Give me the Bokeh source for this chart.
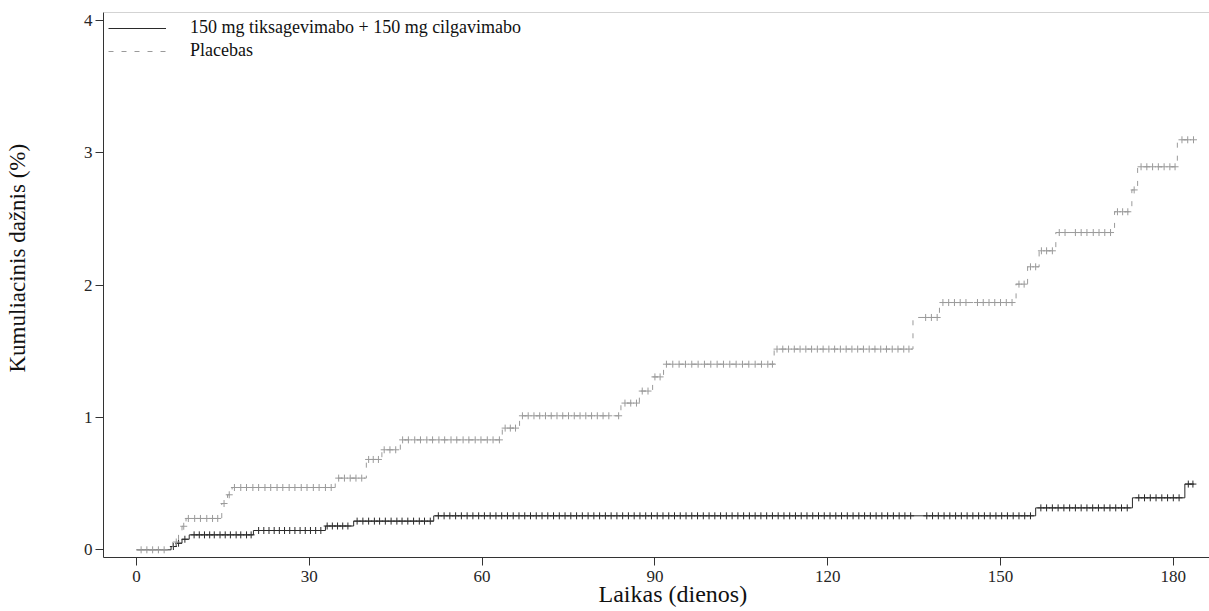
import numpy as np
from bokeh.plotting import figure
from bokeh.models import (Range1d, Legend, LegendItem, Span, FixedTicker, Title, LinearAxis)
from bokeh.embed import file_html
from bokeh.resources import INLINE

# ---- data ----
x_ticks = [0, 30, 60, 90, 120, 150, 180]
y_ticks = [0, 1, 2, 3, 4]
x_title = "Laikas (dienos)"
y_title = "Kumuliacinis dažnis (%)"
trt_name = "150 mg tiksagevimabo + 150 mg cilgavimabo"
pbo_name = "Placebas"

# treatment: step times (days) and cumulative incidence (%)
trt_days = [0, 6.0, 6.9, 7.9, 9.15, 20.3, 32.8, 37.7, 51.6, 156.1, 172.9, 182.0]
trt_cum = [0, 0.025, 0.05, 0.08, 0.113, 0.146, 0.18, 0.217, 0.257, 0.317, 0.393, 0.497]
trt_last_day = 183.6

# placebo
pbo_days = [0, 6.3, 7.3, 7.9, 8.6, 14.8, 15.8, 16.6, 34.5, 39.9, 42.6, 45.8, 63.5, 66.5,
            84.1, 87.3, 89.6, 91.5, 110.7, 134.8, 139.4, 152.7, 154.7, 156.7, 159.6,
            169.8, 172.8, 173.8, 180.7]
pbo_cum = [0, 0.059, 0.118, 0.178, 0.237, 0.35, 0.416, 0.471, 0.542, 0.683, 0.756, 0.831,
           0.92, 1.013, 1.109, 1.2, 1.307, 1.403, 1.517, 1.756, 1.869, 2.008, 2.139, 2.26,
           2.398, 2.555, 2.72, 2.895, 3.099]
pbo_last_day = 183.8

# censoring times (days)
trt_censor = [6.4, 7.3, 8.4,
              10.0, 10.9, 11.8, 12.7, 13.5, 14.5, 15.4, 16.3, 17.3, 18.1, 19.1, 19.9,
              21.2, 22.1, 23.0, 23.9, 24.8, 25.7, 26.6, 27.5, 28.4, 29.3, 30.2, 31.1, 32.0,
              33.1, 34.0, 34.9, 35.8, 36.7,
              38.3, 39.3, 40.3, 41.3, 42.2, 43.2, 44.2, 45.2, 46.1, 47.1, 48.1, 49.1, 50.0, 51.0,
              52.4, 53.4, 54.4, 55.4, 56.4, 57.4, 58.4, 59.4, 60.4, 61.4, 62.4, 63.4, 64.4,
              65.4, 66.4, 67.4, 68.4, 69.4, 70.4, 71.4, 72.4, 73.4, 74.4, 75.4, 76.4, 77.4,
              78.4, 79.4, 80.4, 81.4, 82.4, 83.4, 84.4, 85.4, 86.4, 87.4, 88.4, 89.4, 90.4,
              91.4, 92.4, 93.4, 94.4, 95.4, 96.4, 97.4, 98.4, 99.4, 100.4, 101.4, 102.4,
              103.4, 104.4, 105.4, 106.4, 107.4, 108.4, 109.4, 110.4, 111.4, 112.4, 113.4,
              114.4, 115.4, 116.4, 117.4, 118.4, 119.4, 120.4, 121.4, 122.4, 123.4, 124.4,
              125.4, 126.4, 127.4, 128.4, 129.4, 130.4, 131.4, 132.4, 133.4, 134.4,
              137.2, 138.2, 139.2, 140.2, 141.2, 142.2, 143.2, 144.2, 145.2, 146.2, 147.2,
              148.2, 149.2, 150.2, 151.2, 152.2, 153.2, 154.2, 155.2,
              157.0, 158.0, 159.0, 160.0, 161.0, 162.0, 163.0, 164.0, 165.0, 166.0, 167.0,
              168.0, 169.0, 170.0, 171.0, 172.0,
              174.0, 175.0, 176.0, 177.0, 178.0, 179.0, 180.0, 181.0,
              182.6, 183.4]
pbo_censor = [0.8, 1.8, 2.8, 3.8, 4.8,
              6.9, 8.2,
              9.0, 10.1, 11.1, 12.2, 13.2, 14.1,
              15.2, 16.1,
              17.0, 18.1, 19.1, 20.2, 21.2, 22.3, 23.3, 24.4, 25.4, 26.5, 27.5, 28.6, 29.6,
              30.7, 31.7, 32.8, 33.8,
              35.1, 36.1, 37.1, 38.1, 39.1,
              40.3, 41.1, 42.0,
              43.0, 44.0, 45.0,
              46.2, 47.2, 48.3, 49.3, 50.4, 51.4, 52.5, 53.5, 54.6, 55.6, 56.7, 57.7, 58.8,
              59.8, 60.9, 61.9, 63.0,
              64.0, 64.9, 65.8,
              67.0, 68.0, 69.0, 70.0, 71.0, 72.0, 73.0, 74.0, 75.0, 76.0, 77.0, 78.0, 79.0,
              80.0, 81.0, 82.0, 83.7,
              84.8, 85.8, 86.8,
              87.8, 88.8,
              90.0, 90.9,
              92.0, 93.1, 94.2, 95.3, 96.4, 97.5, 98.6, 99.7, 100.8, 101.9, 103.0, 104.1,
              105.2, 106.3, 107.4, 108.5, 109.6, 110.4,
              111.2, 112.2, 113.2, 114.2, 115.2, 116.2, 117.2, 118.2, 119.2, 120.2, 121.2,
              122.2, 123.2, 124.2, 125.2, 126.2, 127.2, 128.2, 129.2, 130.2, 131.2, 132.2,
              133.2, 134.1,
              137.0, 138.0, 139.0,
              140.0, 141.0, 142.0, 143.0, 144.0,
              146.0, 147.0, 148.0, 149.0, 150.0, 151.0, 152.0,
              153.2, 154.1,
              155.2, 156.1,
              157.1, 158.0, 159.0,
              160.2, 161.2,
              163.0, 164.0, 165.0, 166.1, 167.1, 168.1, 169.1,
              170.3, 171.2, 172.1,
              173.2,
              174.4, 175.4, 176.4, 177.4, 178.4, 179.4, 180.3,
              181.5, 182.5, 183.5]

# axis ranges
x_lo, x_hi = -5.73, 186.28
y_lo, y_hi = -0.058, 4.061


def level_at(t, days, cum):
    idx = np.searchsorted(np.asarray(days), np.asarray(t), side="right") - 1
    return np.asarray(cum)[idx]


FONT = "Liberation Serif"
TRT_COL = "#2a2a2a"
PBO_COL = "#9a9a9a"

p = figure(width=1209, height=611, output_backend="svg", toolbar_location=None,
           x_range=Range1d(x_lo, x_hi), y_range=Range1d(y_lo, y_hi),
           min_border_left=103, min_border_right=0, min_border_top=12, min_border_bottom=54)
p.outline_line_color = None
p.xgrid.visible = False
p.ygrid.visible = False
p.background_fill_color = "white"
p.border_fill_color = "white"

# step curves (treatment first, placebo drawn over it)
trt_line = p.step(trt_days + [trt_last_day], trt_cum + [trt_cum[-1]], mode="after",
                  line_color=TRT_COL, line_width=1)
p.scatter(trt_censor, level_at(trt_censor, trt_days, trt_cum), marker="cross", size=7,
          line_color=TRT_COL, line_width=1)
pbo_line = p.step(pbo_days + [pbo_last_day], pbo_cum + [pbo_cum[-1]], mode="after",
                  line_color=PBO_COL, line_width=1, line_dash="5 8")
p.scatter(pbo_censor, level_at(pbo_censor, pbo_days, pbo_cum), marker="cross", size=7,
          line_color=PBO_COL, line_width=1)

# top frame line
p.add_layout(Span(location=y_hi, dimension="width", line_color="#a8a8a8", line_width=1))

# axes
for ax in (p.xaxis[0], p.yaxis[0]):
    ax.axis_line_color = "#333333"
    ax.major_tick_line_color = "#333333"
    ax.minor_tick_line_color = None
    ax.major_tick_in = 0
    ax.major_tick_out = 8
    ax.major_label_text_font = FONT
    ax.major_label_text_font_size = "17px"
    ax.major_label_text_color = "#262626"
p.xaxis.ticker = FixedTicker(ticks=x_ticks)
p.yaxis.ticker = FixedTicker(ticks=y_ticks)
p.xaxis.major_label_standoff = 5
p.yaxis.major_label_standoff = 3

# invisible spacer between the y axis and its title (one white tick at the range floor)
spacer = LinearAxis(ticker=FixedTicker(ticks=[y_lo]), axis_line_color=None,
                    major_tick_line_color="white", minor_tick_line_color=None,
                    major_tick_out=50, major_tick_in=0, major_label_standoff=0,
                    major_label_text_alpha=0, major_label_text_font_size="1px")
p.add_layout(spacer, "left")

# axis titles
p.add_layout(Title(text=y_title, align="left", offset=185, vertical_align="middle",
                   standoff=0, text_font=FONT, text_font_size="23px",
                   text_font_style="normal", text_color="#111111"), "left")
p.add_layout(Title(text=x_title, align="left", offset=495, vertical_align="middle",
                   standoff=-9, text_font=FONT, text_font_size="24px",
                   text_font_style="normal", text_color="#111111"), "below")

# legend
legend = Legend(items=[LegendItem(label=trt_name, renderers=[trt_line]),
                       LegendItem(label=pbo_name, renderers=[pbo_line])],
                location="top_left", border_line_color=None, background_fill_alpha=0,
                label_text_font=FONT, label_text_font_size="18px", label_text_color="#111111",
                glyph_width=58, glyph_height=16, label_standoff=24, spacing=2,
                padding=0, margin=5, label_height=16)
p.add_layout(legend)

open("out.html", "w").write(file_html(p, INLINE))
